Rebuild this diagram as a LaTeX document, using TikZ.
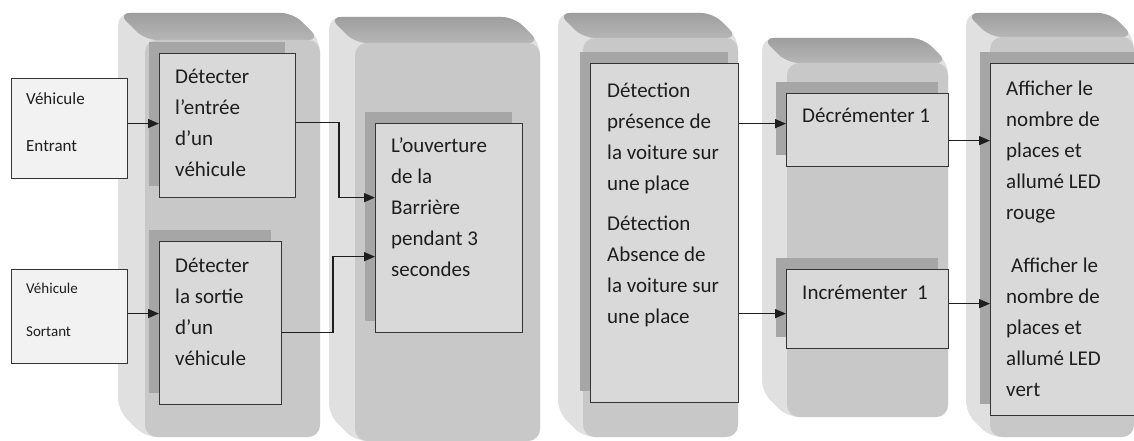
\documentclass[tikz,border=0pt]{standalone}
\usepackage{fontspec}
\setmainfont{Carlito}
\usetikzlibrary{arrows.meta,shadows}

\definecolor{frontgray}{HTML}{C8C8C8}
\definecolor{sidegray}{HTML}{E0E0E0}
\definecolor{topdark}{HTML}{9E9E9E}
\definecolor{toplight}{HTML}{B6B6B6}
\definecolor{boxgray}{HTML}{D9D9D9}
\definecolor{shadegray}{HTML}{A6A6A6}
\definecolor{inputgray}{HTML}{F2F2F2}
\definecolor{ink}{HTML}{1E1E1E}

% Extruded column: front face (x1,y1)-(x2,y2), pushed back up-left by the depth
\newcommand\drawslab[5]{%
  \fill[sidegray, rounded corners=12pt]
    (#1-#5,#2-#5) -- (#3-#5,#2-#5) -- (#3,#2) -- (#3,#4) -- (#1,#4) -- (#1-#5,#4-#5) -- cycle;
  \shade[top color=topdark, bottom color=toplight, rounded corners=12pt]
    (#1-#5,#2-#5) -- (#3-#5,#2-#5) -- (#3,#2) -- (#1,#2) -- cycle;
  \fill[frontgray, rounded corners=12pt] (#1,#2) rectangle (#3,#4);
}

% multi-line texts sit on the baseline of their last line
\tikzset{
  box/.style={draw=ink!90, line width=1.3pt, fill=boxgray, anchor=north west, inner sep=0pt,
    general shadow={fill=shadegray, shadow xshift=-11pt, shadow yshift=12pt}},
  inbox/.style={draw=ink!90, line width=1.1pt, fill=inputgray, anchor=north west, inner sep=0pt},
  txt/.style={anchor=base west, inner sep=0pt, align=left, text=ink,
    font=\fontsize{21}{31}\selectfont},
  arr/.style={line width=1.4pt, draw=ink, -{Triangle[length=11pt,width=9pt]}}
}

\begin{document}
\begin{tikzpicture}[x=1pt,y=-1pt]
\useasboundingbox (0,0) rectangle (1134,441);
\clip (0,0) rectangle (1134,441);

% columns
\drawslab{145}{40}{320}{437}{27}
\drawslab{355}{43}{540}{441}{26}
\drawslab{583}{38}{738}{437}{25}
\drawslab{787}{63}{948}{417}{25}
\drawslab{990}{37}{1134}{437}{24}

% input boxes
\node[inbox, minimum width=116pt, minimum height=100pt] (ent) at (11,78) {};
\node[inbox, minimum width=116pt, minimum height=94pt] (sort) at (11,269) {};
\node[txt, font=\fontsize{17}{47}\selectfont] (tent) at ([xshift=15pt,yshift=-73pt]ent.north west) {Véhicule\\Entrant};
\node[txt, font=\fontsize{15}{43}\selectfont] (tsort) at ([xshift=15pt,yshift=-67pt]sort.north west) {Véhicule\\Sortant};

% process boxes
\node[box, minimum width=136pt, minimum height=144pt] (b1) at (159,53) {};
\node[box, minimum width=122pt, minimum height=163pt] (b2) at (159,241) {};
\node[box, minimum width=147pt, minimum height=209pt] (b3) at (375,123) {};
\node[box, minimum width=148pt, minimum height=339pt] (det) at (590,63) {};
\node[box, minimum width=162pt, minimum height=73pt] (dec) at (786,93) {};
\node[box, minimum width=162pt, minimum height=79pt] (inc) at (786,269) {};
\node[box, minimum width=160pt, minimum height=352pt] (aff) at (990,63) {};

\node[txt] (tb1) at ([xshift=16pt,yshift=-123pt]b1.north west) {Détecter\\l’entrée\\d’un\\véhicule};
\node[txt] (tb2) at ([xshift=16pt,yshift=-124pt]b2.north west) {Détecter\\la sortie\\d’un\\véhicule};
\node[txt] (tb3) at ([xshift=16pt,yshift=-153pt]b3.north west) {L’ouverture\\de la\\Barrière\\pendant 3\\secondes};
\node[txt] (tdet) at ([xshift=17pt,yshift=-260pt]det.north west) {Détection\\présence de\\la voiture sur\\une place\\[9pt]Détection\\Absence de\\la voiture sur\\une place};
\node[txt] (tdec) at ([xshift=16pt,yshift=-30pt]dec.north west) {Décrémenter 1};
\node[txt] (tinc) at ([xshift=16pt,yshift=-30pt]inc.north west) {Incrémenter\ \ 1};
\node[txt] (taff) at ([xshift=16pt,yshift=-333pt]aff.north west) {Afficher le\\nombre de\\places et\\allumé LED\\rouge\\[22pt]\hspace*{5pt}Afficher le\\nombre de\\places et\\allumé LED\\vert};

% connectors
\draw[arr] ([yshift=5pt]ent.east) -- ([yshift=5pt]ent.east -| b1.west);
\draw[arr] ([yshift=3pt]sort.east) -- ([yshift=3pt]sort.east -| b2.west);
\draw[arr] ([yshift=3pt]b1.east) -| ([xshift=-36pt,yshift=30.5pt]b3.west) -- ([yshift=30.5pt]b3.west);
\draw[arr] ([yshift=-9.5pt]b2.east) -| ([xshift=-42pt,yshift=-28.5pt]b3.west) -- ([yshift=-28.5pt]b3.west);
\draw[arr] ([yshift=6.5pt]dec.west -| det.east) -- ([yshift=6.5pt]dec.west);
\draw[arr] ([yshift=-4.5pt]inc.west -| det.east) -- ([yshift=-4.5pt]inc.west);
\draw[arr] ([yshift=-10.5pt]dec.east) -- ([yshift=-10.5pt]dec.east -| aff.west);
\draw[arr] ([yshift=5.5pt]inc.east) -- ([yshift=5.5pt]inc.east -| aff.west);
\end{tikzpicture}
\end{document}
